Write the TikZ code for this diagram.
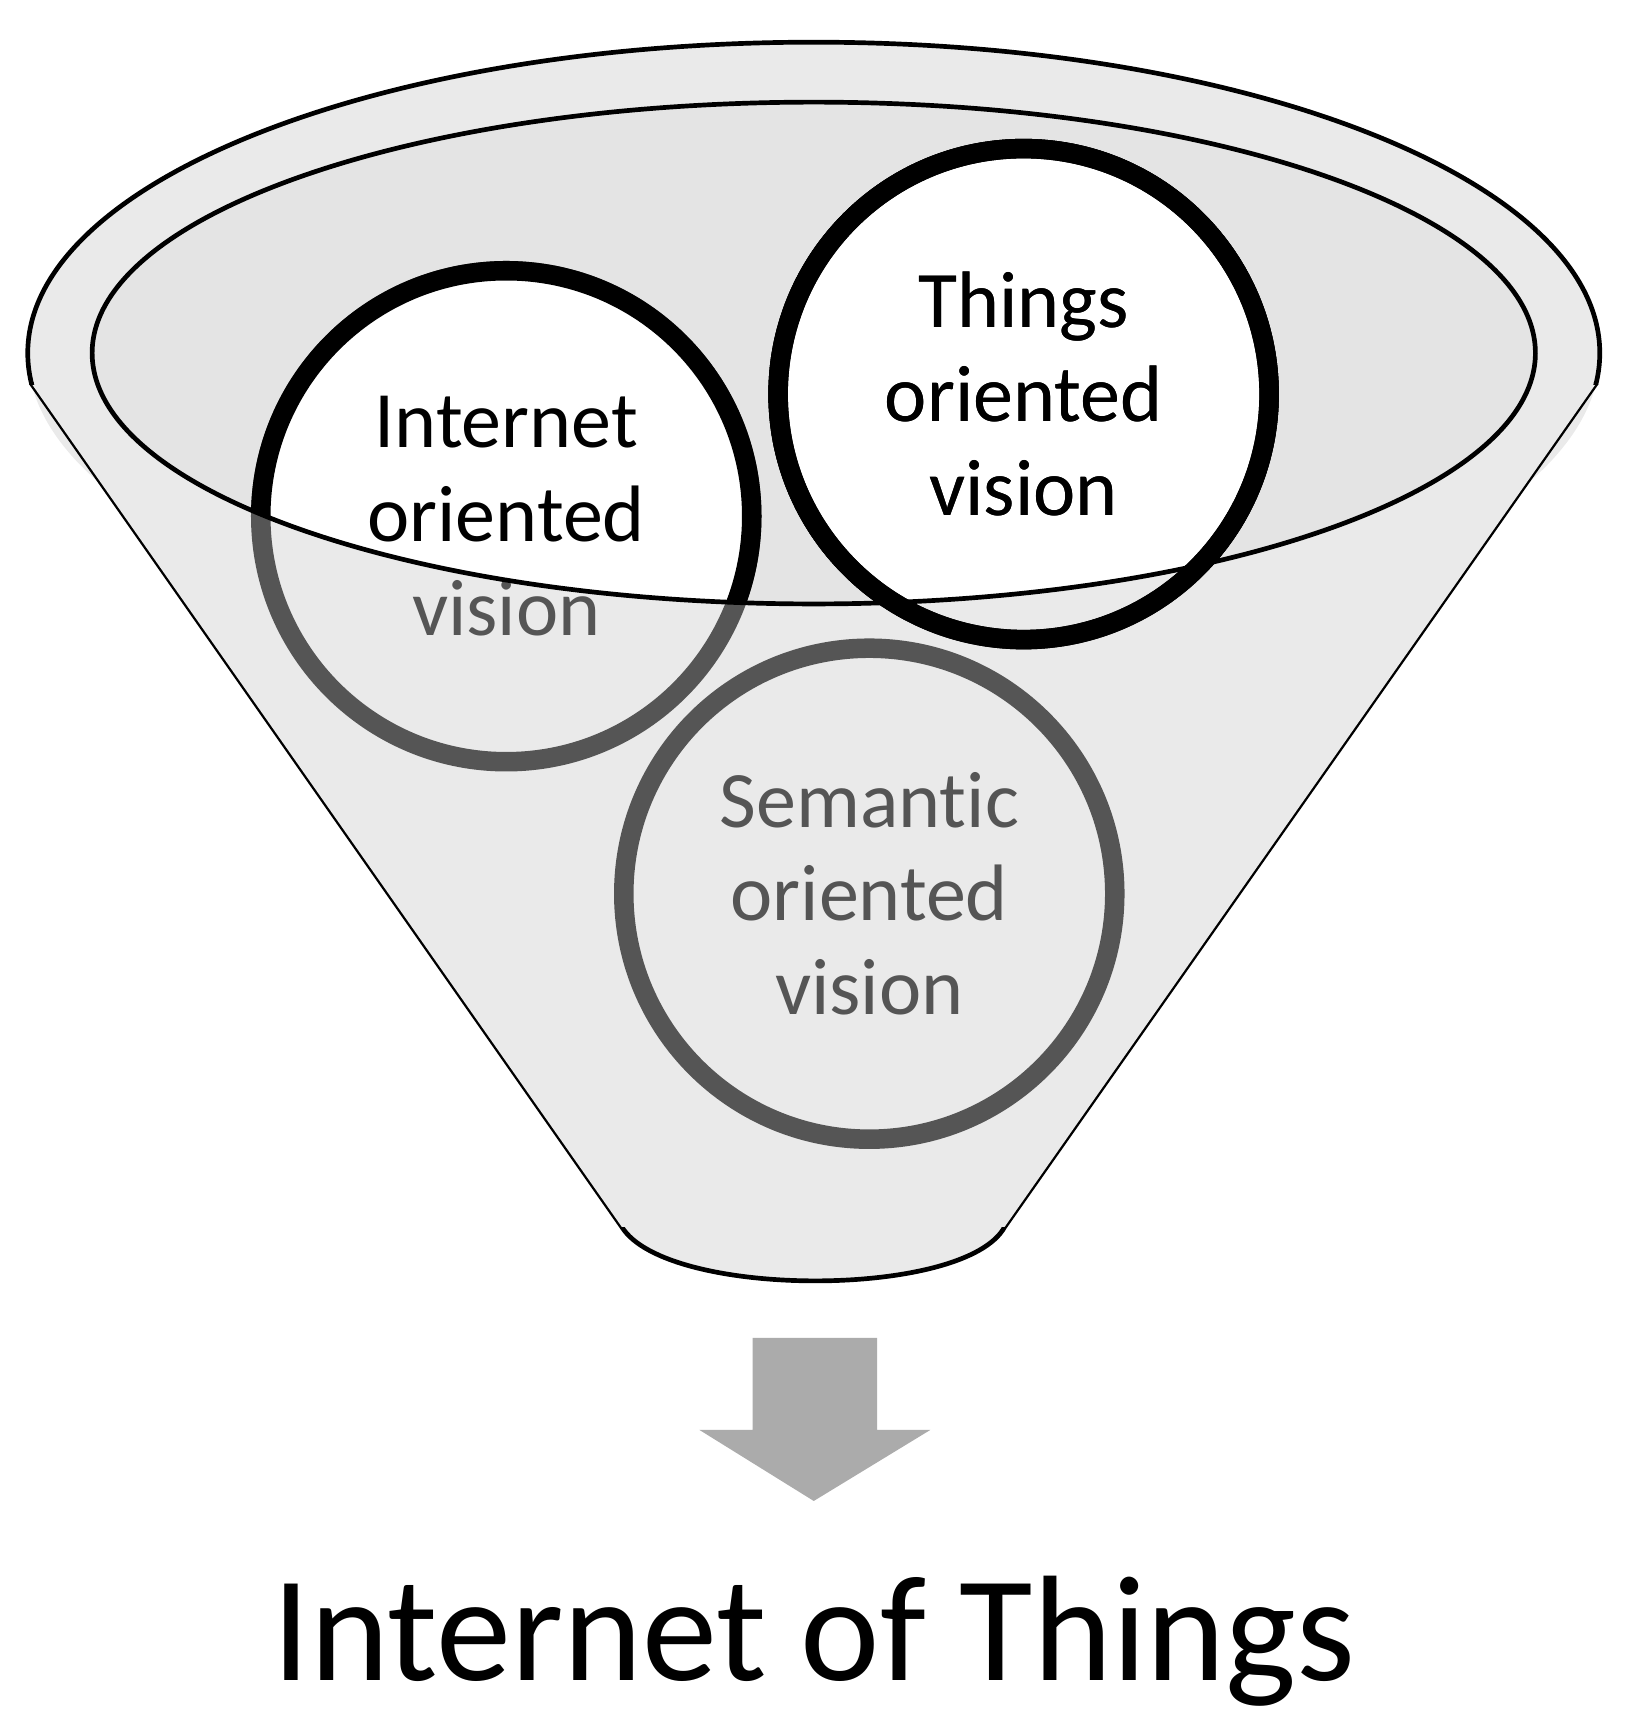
\documentclass[tikz,border=0pt]{standalone}
\usepackage{fontspec}
\setmainfont{Carlito}[Ligatures=NoCommon]
\begin{document}
\begin{tikzpicture}[x=0.01cm,y=-0.01cm,
  circ/.style={circle,minimum size=4.42cm,inner sep=0pt,line width=5pt,align=center,font=\fontsize{20.5}{24}\selectfont},
  ]
\useasboundingbox (0,0) rectangle (1466,1552);
\definecolor{fun}{HTML}{EAEAEA}
\definecolor{inn}{HTML}{E4E4E4}
\definecolor{dg}{HTML}{555555}
% funnel body
\fill[fun] (733,318) ellipse [x radius=708,y radius=280];
\draw[line width=1.2pt,fill=fun] (28,345) -- (560,1105) .. controls (600,1170) and (870,1170) .. (905,1105) -- (1438,345);
\fill[fun] (28,345) -- (1438,345) -- (905,1105) -- (560,1105) -- cycle;
\begin{scope}
\clip (0,0) rectangle (1466,346);
\draw[line width=1.2pt] (733,318) ellipse [x radius=708,y radius=280];
\end{scope}
\fill[inn] (733,318) ellipse [x radius=650,y radius=226];
% circles (lower part)
\node[circ,draw=dg,text=dg,fill=fun] (iov) at (456,465) {Internet\\oriented\\vision};
\node[circ,draw=black,fill=fun] (tov) at (922,355) {};
\node[circ,draw=dg,text=dg,fill=fun] (sov) at (783,805) {Semantic\\oriented\\vision};
% inside inner ellipse
\begin{scope}
\clip (733,318) ellipse [x radius=650,y radius=226];
\node[circ,draw=black,fill=white,text=black] at (456,465) {Internet\\oriented\\vision};
\node[circ,draw=black,fill=white,text=black] at (922,355) {Things\\oriented\\vision};
\end{scope}
\node[circ,draw=none,fill=none] at (922,355) {Things\\oriented\\vision};
\draw[line width=1.2pt] (733,318) ellipse [x radius=650,y radius=226];
\node[circ,draw=black,fill=none] at (922,355) {};
% arrow
\fill[black!33] (678,1205) -- (790,1205) -- (790,1288) -- (838,1288) -- (733,1352) -- (630,1288) -- (678,1288) -- cycle;
\node[font=\fontsize{38.5}{46}\selectfont] (iot) at (733,1478) {Internet of Things};
\end{tikzpicture}
\end{document}
